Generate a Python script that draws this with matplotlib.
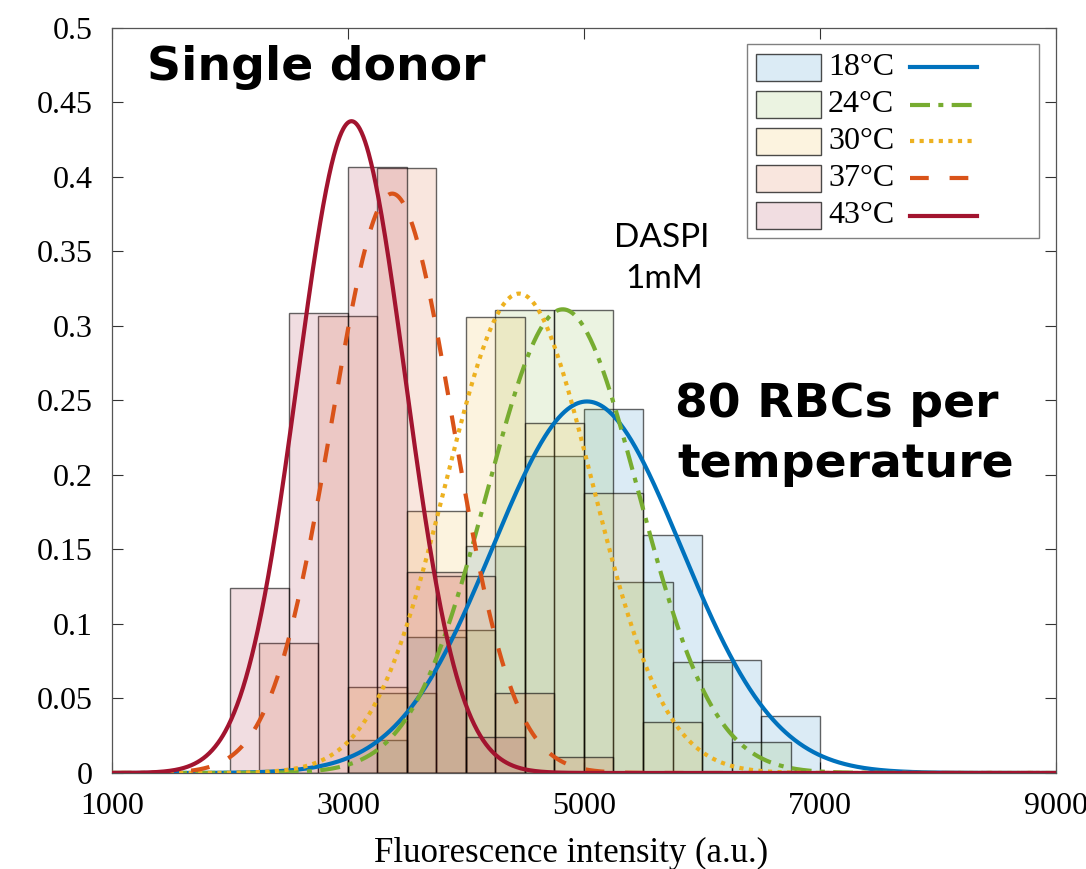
import numpy as np
import matplotlib
matplotlib.use("Agg")
import matplotlib.pyplot as plt
from matplotlib.patches import Rectangle
from matplotlib.lines import Line2D
from matplotlib.ticker import FuncFormatter

# --- data ---------------------------------------------------------------
temps = ["18°C", "24°C", "30°C", "37°C", "43°C"]
bin_width = 500
# first bin edge of every histogram (each temperature has its own binning)
bin_start = [3000, 3250, 3000, 2250, 2000]
h_18 = [0.022, 0.091, 0.152, 0.213, 0.244, 0.160, 0.076, 0.038]
h_24 = [0.054, 0.096, 0.311, 0.311, 0.128, 0.0745, 0.021]
h_30 = [0.058, 0.176, 0.306, 0.235, 0.188, 0.034]
h_37 = [0.087, 0.307, 0.406, 0.132, 0.054, 0.011]
h_43 = [0.124, 0.309, 0.407, 0.135, 0.024]
heights = [h_18, h_24, h_30, h_37, h_43]
# normal fits drawn over the histograms (mean, std)
fit_mu = [5025, 4820, 4450, 3375, 3030]
fit_sd = [800, 641, 620, 513, 456]

colors = ["#0072BD", "#77AC30", "#EDB120", "#D95319", "#A2142F"]
styles = ["-", (0, (4.8, 2.0, 1.2, 2.0)), (0, (1.0, 1.3)), (0, (4.5, 5.0)), "-"]
face_alpha = 0.14

plt.rcParams["font.family"] = ["Liberation Serif", "DejaVu Serif"]

fig = plt.figure(figsize=(10.86, 8.69), dpi=100)
ax = fig.add_axes([0.1031, 0.1105, 0.8693, 0.8573])

xs = np.linspace(1000, 9000, 1601)
for t, s0, h, c in zip(temps, bin_start, heights, colors):
    lefts = s0 + bin_width * np.arange(len(h))
    rgba = matplotlib.colors.to_rgba(c, face_alpha)
    ax.bar(lefts, h, width=bin_width, align="edge", facecolor=rgba,
           edgecolor=(0, 0, 0, 0.6), linewidth=1.0, zorder=2)

for mu, sd, c, ls in zip(fit_mu, fit_sd, colors, styles):
    pdf = np.exp(-0.5 * ((xs - mu) / sd) ** 2) / (sd * np.sqrt(2 * np.pi))
    ax.plot(xs, pdf * bin_width, color=c, lw=3.0, linestyle=ls, zorder=3)

ax.set_xlim(1000, 9000)
ax.set_ylim(0, 0.5)
ax.set_xticks([1000, 3000, 5000, 7000, 9000])
ax.set_yticks(np.arange(0, 0.501, 0.05))
ax.yaxis.set_major_formatter(FuncFormatter(lambda v, p: f"{v:g}"))
ax.tick_params(direction="in", top=True, right=True, length=8, width=0.8,
               labelsize=23, pad=14, color="#333333")
for sp in ax.spines.values():
    sp.set_color("#555555")
    sp.set_linewidth(0.9)

fig.text(0.5258, 1 - 862 / 869, "Fluorescence intensity (a.u.)", fontsize=25,
         ha="center", va="baseline")

# --- legend: patch, label, line sample ----------------------------------
ax.add_patch(Rectangle((0.6727, 0.7181), 0.3093, 0.2604, transform=ax.transAxes,
                       facecolor="white", edgecolor="#808080", lw=1.0, zorder=5))
rows_y = [0.947, 0.897, 0.848, 0.798, 0.748]
for t, c, ls, yy in zip(temps, colors, styles, rows_y):
    ax.add_patch(Rectangle((0.6822, yy - 0.0181), 0.0689, 0.0362,
                           transform=ax.transAxes,
                           facecolor=matplotlib.colors.to_rgba(c, face_alpha),
                           edgecolor=(0, 0, 0, 0.7), lw=1.0, zorder=6))
    ax.text(0.7585, yy, t, transform=ax.transAxes, fontsize=23,
            va="center", ha="left", zorder=6)
    ax.add_line(Line2D([0.845, 0.916], [yy, yy], transform=ax.transAxes,
                       color=c, lw=3.0, linestyle=ls, zorder=6))

# --- annotations --------------------------------------------------------
bold = dict(family=["DejaVu Sans"], fontweight="bold", fontsize=34)
fig.text(0.1354, 1 - 80 / 869, "Single donor", va="baseline", **bold)
fig.text(0.6215, 1 - 417 / 869, "80 RBCs per", va="baseline", **bold)
fig.text(0.6234, 1 - 477 / 869, "temperature", va="baseline", **bold)
reg = dict(family=["Lato", "DejaVu Sans"], fontsize=24, ha="center")
fig.text(662 / 1086, 1 - 247 / 869, "DASPI", va="baseline", **reg)
fig.text(664 / 1086, 1 - 288 / 869, "1mM", va="baseline", **reg)

fig.savefig("out.png", dpi=100)
